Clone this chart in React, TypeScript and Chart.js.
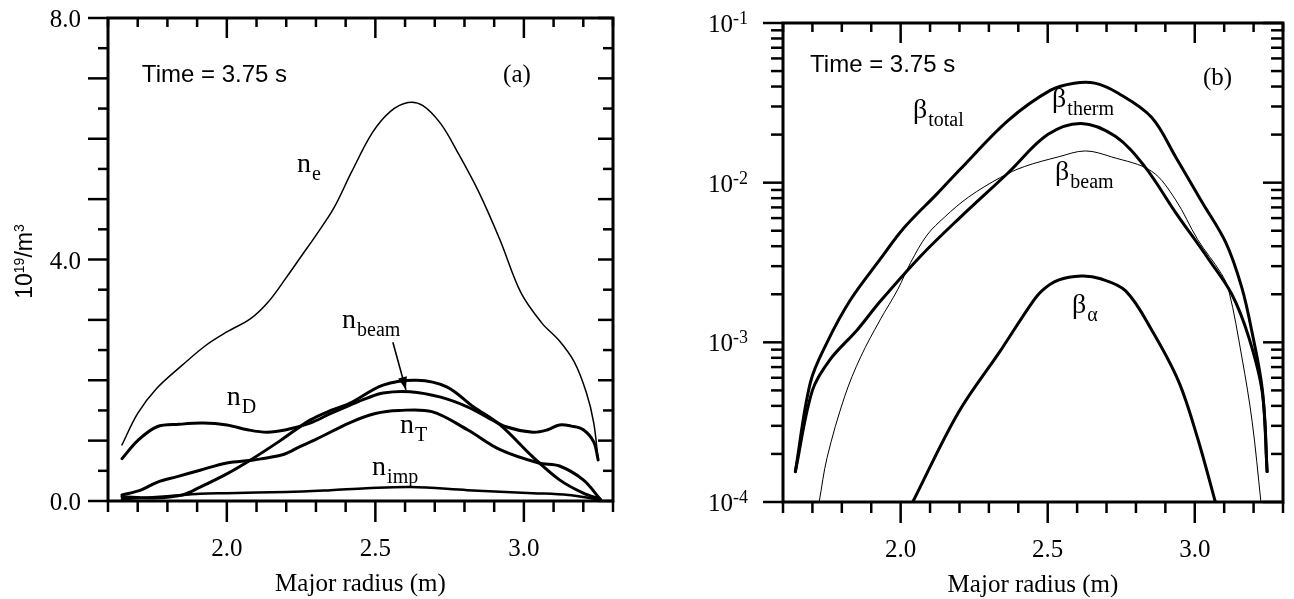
import React, { useEffect, useRef } from "react";
import { Chart, registerables } from "chart.js";

Chart.register(...registerables);

const SERIF = '"Liberation Serif", "Times New Roman", serif';
const SANS = '"Liberation Sans", Arial, sans-serif';

// ---------- shared x axis ----------
const radiusMin = 1.6;
const radiusMax = 3.3;
const radiusTicks = [1.6, 1.7, 1.8, 1.9, 2.0, 2.1, 2.2, 2.3, 2.4, 2.5, 2.6, 2.7, 2.8, 2.9, 3.0, 3.1, 3.2, 3.3];
const radiusMajor = [2.0, 2.5, 3.0];
const radiusLabels = ["2.0", "2.5", "3.0"];
const xTitle = "Major radius (m)";
const timeText = "Time = 3.75 s";

// ---------- panel (a): densities, 10^19/m^3 ----------
const densMin = 0;
const densMax = 8;
const densMajorTicks = [0, 1, 2, 3, 4, 5, 6, 7, 8];
const densMinorTicks = [0.5, 1.5, 2.5, 3.5, 4.5, 5.5, 6.5, 7.5];
const densLabelVals = [0, 4, 8];
const densLabels = ["0.0", "4.0", "8.0"];

const neR = [1.647, 1.70, 1.765, 1.85, 1.93, 2.0, 2.08, 2.14, 2.20, 2.25, 2.30, 2.36, 2.42, 2.49, 2.55, 2.61, 2.66, 2.72, 2.78, 2.85, 2.92, 2.99, 3.06, 3.12, 3.17, 3.21, 3.235, 3.25];
const neV = [0.93, 1.45, 1.87, 2.25, 2.58, 2.8, 3.02, 3.3, 3.7, 4.05, 4.4, 4.85, 5.45, 6.1, 6.45, 6.6, 6.55, 6.25, 5.75, 5.1, 4.32, 3.45, 2.95, 2.65, 2.3, 1.8, 1.3, 0.68];

const nDR = [1.647, 1.70, 1.765, 1.84, 1.92, 2.0, 2.07, 2.135, 2.2, 2.28, 2.35, 2.415, 2.47, 2.526, 2.617, 2.72, 2.81, 2.876, 2.94, 3.03, 3.08, 3.12, 3.16, 3.2, 3.235, 3.25];
const nDV = [0.7, 1.0, 1.23, 1.27, 1.29, 1.26, 1.18, 1.14, 1.18, 1.29, 1.45, 1.59, 1.7, 1.79, 1.81, 1.72, 1.56, 1.39, 1.23, 1.14, 1.18, 1.26, 1.24, 1.18, 0.98, 0.68];

const nBeamR = [1.647, 1.75, 1.85, 1.91, 2.0, 2.08, 2.18, 2.28, 2.35, 2.415, 2.526, 2.64, 2.74, 2.83, 2.92, 3.03, 3.12, 3.2, 3.257];
const nBeamV = [0.07, 0.05, 0.1, 0.23, 0.45, 0.68, 1.0, 1.34, 1.5, 1.62, 1.92, 2.0, 1.89, 1.56, 1.26, 0.73, 0.35, 0.13, 0.03];

const nTR = [1.647, 1.71, 1.765, 1.83, 1.91, 2.0, 2.09, 2.19, 2.246, 2.3, 2.415, 2.5, 2.58, 2.69, 2.81, 2.92, 3.05, 3.12, 3.2, 3.257];
const nTV = [0.1, 0.18, 0.31, 0.4, 0.51, 0.63, 0.68, 0.77, 0.9, 1.02, 1.3, 1.45, 1.5, 1.48, 1.18, 0.85, 0.63, 0.58, 0.35, 0.03];

const nImpR = [1.647, 1.8, 1.91, 2.0, 2.2, 2.35, 2.47, 2.62, 2.81, 3.03, 3.15, 3.22, 3.257];
const nImpV = [0.03, 0.08, 0.12, 0.13, 0.15, 0.18, 0.21, 0.23, 0.18, 0.13, 0.1, 0.05, 0.02];

// ---------- panel (b): beta, log scale ----------
const betaMin = 1e-4;
const betaMax = 1e-1;
const betaDecades = [1e-4, 1e-3, 1e-2, 1e-1];
const betaMinor = [2e-4, 3e-4, 4e-4, 5e-4, 6e-4, 7e-4, 8e-4, 9e-4, 2e-3, 3e-3, 4e-3, 5e-3, 6e-3, 7e-3, 8e-3, 9e-3, 2e-2, 3e-2, 4e-2, 5e-2, 6e-2, 7e-2, 8e-2, 9e-2];
const betaLabelExp = ["-4", "-3", "-2", "-1"];

const bTotR = [1.642, 1.693, 1.75, 1.829, 1.928, 2.013, 2.126, 2.2, 2.365, 2.51, 2.59, 2.66, 2.74, 2.853, 2.935, 3.024, 3.106, 3.16, 3.195, 3.23, 3.246];
const bTotV = [1.55e-4, 5.6e-4, 1.0e-3, 1.84e-3, 3.27e-3, 5.25e-3, 8.6e-3, 1.2e-2, 2.45e-2, 3.8e-2, 4.2e-2, 4.2e-2, 3.63e-2, 2.57e-2, 1.45e-2, 7.6e-3, 4.2e-3, 2.2e-3, 1.15e-3, 5e-4, 1.55e-4];

const bThermR = [1.642, 1.70, 1.76, 1.853, 1.93, 2.07, 2.2, 2.365, 2.50, 2.614, 2.73, 2.83, 2.935, 3.048, 3.126, 3.184, 3.23, 3.246];
const bThermV = [1.55e-4, 5e-4, 7.8e-4, 1.2e-3, 1.8e-3, 3.5e-3, 6.0e-3, 1.15e-2, 2.0e-2, 2.35e-2, 1.95e-2, 1.26e-2, 6.5e-3, 3.3e-3, 2.0e-3, 1.07e-3, 4.8e-4, 1.55e-4];

const bBeamR = [1.723, 1.75, 1.81, 1.864, 1.93, 1.99, 2.034, 2.09, 2.15, 2.23, 2.34, 2.42, 2.536, 2.628, 2.717, 2.853, 2.935, 3.01, 3.09, 3.116, 3.16, 3.195, 3.225];
const bBeamV = [1e-4, 1.9e-4, 4.6e-4, 8.1e-4, 1.38e-3, 2.14e-3, 3.16e-3, 4.7e-3, 6.1e-3, 8.1e-3, 1.08e-2, 1.26e-2, 1.45e-2, 1.58e-2, 1.45e-2, 1.18e-2, 7.8e-3, 4.4e-3, 2.7e-3, 2.1e-3, 8.1e-4, 3.2e-4, 1e-4];

const bAlphaR = [2.041, 2.195, 2.34, 2.44, 2.48, 2.536, 2.614, 2.68, 2.765, 2.853, 2.945, 3.01, 3.07];
const bAlphaV = [1e-4, 3.6e-4, 8.9e-4, 1.7e-3, 2.1e-3, 2.45e-3, 2.6e-3, 2.5e-3, 2.1e-3, 1.2e-3, 5.7e-4, 2.5e-4, 1e-4];

// ---------- annotations (anchored in data coordinates) ----------
const aNotes = [
  { main: "n", sub: "e", x: 2.236, y: 5.45 },
  { main: "n", sub: "D", x: 2.0, y: 1.59 },
  { main: "n", sub: "beam", x: 2.388, y: 2.865 },
  { main: "n", sub: "T", x: 2.583, y: 1.126 },
  { main: "n", sub: "imp", x: 2.489, y: 0.43 },
];
const bNotes = [
  { main: "β", sub: "total", x: 2.042, y: 0.0255 },
  { main: "β", sub: "therm", x: 2.515, y: 0.0298 },
  { main: "β", sub: "beam", x: 2.525, y: 0.0104 },
  { main: "β", sub: "α", x: 2.583, y: 0.00153 },
];

function series(xs: number[], ys: number[], width: number) {
  return {
    data: xs.map((x, i) => ({ x, y: ys[i] })),
    borderColor: "#000",
    backgroundColor: "#000",
    borderWidth: width,
    pointRadius: 0,
    fill: false,
    tension: 0.35,
    borderJoinStyle: "round",
    borderCapStyle: "round",
  };
}

const framePlugin = {
  id: "frame",
  afterDraw(chart: any, _args: any, o: any) {
    const ctx = chart.ctx as CanvasRenderingContext2D;
    const { left, right, top, bottom } = chart.chartArea;
    const xs = chart.scales.x;
    const ys = chart.scales.y;
    ctx.save();
    ctx.strokeStyle = "#000";
    ctx.fillStyle = "#000";
    ctx.lineCap = "butt";
    const seg = (x1: number, y1: number, x2: number, y2: number, w = 2.5) => {
      ctx.lineWidth = w;
      ctx.beginPath();
      ctx.moveTo(x1, y1);
      ctx.lineTo(x2, y2);
      ctx.stroke();
    };
    // frame
    ctx.lineWidth = 3;
    ctx.strokeRect(left, top, right - left, bottom - top);
    // x ticks
    for (const v of o.xTicks) {
      const px = xs.getPixelForValue(v);
      const major = o.xMajor.some((m: number) => Math.abs(m - v) < 1e-6);
      seg(px, bottom, px, bottom + (major ? 21 : 11));
      seg(px, top, px, top + (major ? 20 : 9));
    }
    // y ticks
    for (const v of o.yMajor) {
      const py = ys.getPixelForValue(v);
      seg(left - 20, py, left, py);
      seg(right - o.rightMajor, py, right, py);
    }
    for (const v of o.yMinor) {
      const py = ys.getPixelForValue(v);
      seg(left - o.leftMinor, py, left, py);
      seg(right - o.rightMinor, py, right, py);
    }
    // x labels
    ctx.font = `25px ${SERIF}`;
    ctx.textAlign = "center";
    ctx.textBaseline = "alphabetic";
    o.xLabelVals.forEach((v: number, i: number) => {
      ctx.fillText(o.xLabels[i], xs.getPixelForValue(v), bottom + 55);
    });
    ctx.fillText(o.xTitle, (left + right) / 2, bottom + 90);
    // y labels
    ctx.textAlign = "left";
    o.yLabelVals.forEach((v: number, i: number) => {
      const py = ys.getPixelForValue(v);
      if (o.yLog) {
        ctx.font = `25px ${SERIF}`;
        const w1 = ctx.measureText("10").width;
        ctx.font = `18px ${SERIF}`;
        const w2 = ctx.measureText(o.yLabels[i]).width;
        const x0 = left - 35 - w1 - w2;
        ctx.font = `25px ${SERIF}`;
        ctx.fillText("10", x0, py + 9);
        ctx.font = `18px ${SERIF}`;
        ctx.fillText(o.yLabels[i], x0 + w1, py + 1);
      } else {
        ctx.font = `25px ${SERIF}`;
        ctx.textAlign = "right";
        ctx.fillText(o.yLabels[i], left - 27, py + 9);
        ctx.textAlign = "left";
      }
    });
    // y title
    if (o.yTitle) {
      ctx.save();
      ctx.translate(left - 86, (top + bottom) / 2 + 2);
      ctx.rotate(-Math.PI / 2);
      const parts = [
        { t: "10", s: 23, dy: 0 },
        { t: "19", s: 14, dy: -8 },
        { t: "/m", s: 23, dy: 0 },
        { t: "3", s: 14, dy: -8 },
      ];
      let w = 0;
      for (const p of parts) {
        ctx.font = `${p.s}px ${SANS}`;
        w += ctx.measureText(p.t).width;
      }
      let cx = -w / 2;
      for (const p of parts) {
        ctx.font = `${p.s}px ${SANS}`;
        ctx.fillText(p.t, cx, 10 + p.dy);
        cx += ctx.measureText(p.t).width;
      }
      ctx.restore();
    }
    // time label and panel tag
    ctx.textAlign = "left";
    ctx.font = `24px ${SANS}`;
    ctx.fillText(o.time, xs.getPixelForValue(o.timeAt[0]), ys.getPixelForValue(o.timeAt[1]));
    ctx.font = `25px ${SERIF}`;
    ctx.fillText(o.tag, xs.getPixelForValue(o.tagAt[0]), ys.getPixelForValue(o.tagAt[1]));
    // curve labels
    for (const n of o.notes) {
      const px = xs.getPixelForValue(n.x);
      const py = ys.getPixelForValue(n.y);
      ctx.font = `28px ${SERIF}`;
      ctx.fillText(n.main, px, py);
      const w = ctx.measureText(n.main).width;
      ctx.font = `20px ${SERIF}`;
      ctx.fillText(n.sub, px + w + 1, py + 8);
    }
    // arrow
    if (o.arrow) {
      const [x1, y1, x2, y2] = o.arrow;
      const ax = xs.getPixelForValue(x1);
      const ay = ys.getPixelForValue(y1);
      const bx = xs.getPixelForValue(x2);
      const by = ys.getPixelForValue(y2);
      seg(ax, ay, bx, by, 1.6);
      const ang = Math.atan2(by - ay, bx - ax);
      const L = 13;
      const W = 4.5;
      ctx.beginPath();
      ctx.moveTo(bx, by);
      ctx.lineTo(bx - L * Math.cos(ang) + W * Math.sin(ang), by - L * Math.sin(ang) - W * Math.cos(ang));
      ctx.lineTo(bx - L * Math.cos(ang) - W * Math.sin(ang), by - L * Math.sin(ang) + W * Math.cos(ang));
      ctx.closePath();
      ctx.fill();
    }
    ctx.restore();
  },
};

export default function App() {
  const refA = useRef<HTMLCanvasElement>(null);
  const refB = useRef<HTMLCanvasElement>(null);

  useEffect(() => {
    const common = {
      animation: false,
      responsive: false,
      maintainAspectRatio: false,
      events: [],
    };
    const chartA = new Chart(refA.current!, {
      type: "line",
      data: {
        datasets: [
          series(neR, neV, 1.5),
          series(nDR, nDV, 3),
          series(nBeamR, nBeamV, 3),
          series(nTR, nTV, 3),
          series(nImpR, nImpV, 2.5),
        ] as any,
      },
      options: {
        ...common,
        layout: { padding: { left: 108, top: 18, right: 34, bottom: 98 } },
        scales: {
          x: { type: "linear", min: radiusMin, max: radiusMax, display: false },
          y: { type: "linear", min: densMin, max: densMax, display: false },
        },
        plugins: {
          legend: { display: false },
          tooltip: { enabled: false },
          frame: {
            xTicks: radiusTicks,
            xMajor: radiusMajor,
            xLabelVals: radiusMajor,
            xLabels: radiusLabels,
            xTitle,
            yMajor: densMajorTicks,
            yMinor: densMinorTicks,
            leftMinor: 10,
            rightMajor: 15,
            rightMinor: 10,
            yLabelVals: densLabelVals,
            yLabels: densLabels,
            yLog: false,
            yTitle: true,
            time: timeText,
            timeAt: [1.714, 6.94],
            tag: "(a)",
            tagAt: [2.93, 6.94],
            notes: aNotes,
            arrow: [2.559, 2.63, 2.603, 1.84],
          },
        } as any,
      } as any,
      plugins: [framePlugin],
    });
    const chartB = new Chart(refB.current!, {
      type: "line",
      data: {
        datasets: [
          series(bTotR, bTotV, 3),
          series(bThermR, bThermV, 3),
          series(bBeamR, bBeamV, 1),
          series(bAlphaR, bAlphaV, 3),
        ] as any,
      },
      options: {
        ...common,
        layout: { padding: { left: 136, top: 23, right: 11, bottom: 97 } },
        scales: {
          x: { type: "linear", min: radiusMin, max: radiusMax, display: false },
          y: { type: "logarithmic", min: betaMin, max: betaMax, display: false },
        },
        plugins: {
          legend: { display: false },
          tooltip: { enabled: false },
          frame: {
            xTicks: radiusTicks,
            xMajor: radiusMajor,
            xLabelVals: radiusMajor,
            xLabels: radiusLabels,
            xTitle,
            yMajor: betaDecades,
            yMinor: betaMinor,
            leftMinor: 12,
            rightMajor: 20,
            rightMinor: 12,
            yLabelVals: betaDecades,
            yLabels: betaLabelExp,
            yLog: true,
            yTitle: false,
            time: timeText,
            timeAt: [1.692, 0.0493],
            tag: "(b)",
            tagAt: [3.028, 0.0409],
            notes: bNotes,
            arrow: null,
          },
        } as any,
      } as any,
      plugins: [framePlugin],
    });
    return () => {
      chartA.destroy();
      chartB.destroy();
    };
  }, []);

  return (
    <div style={{ position: "absolute", left: 0, top: 0, width: 1294, height: 599, background: "#fff" }}>
      <canvas ref={refA} width={647} height={599} style={{ position: "absolute", left: 0, top: 0, width: 647, height: 599 }} />
      <canvas ref={refB} width={647} height={599} style={{ position: "absolute", left: 647, top: 0, width: 647, height: 599 }} />
    </div>
  );
}
